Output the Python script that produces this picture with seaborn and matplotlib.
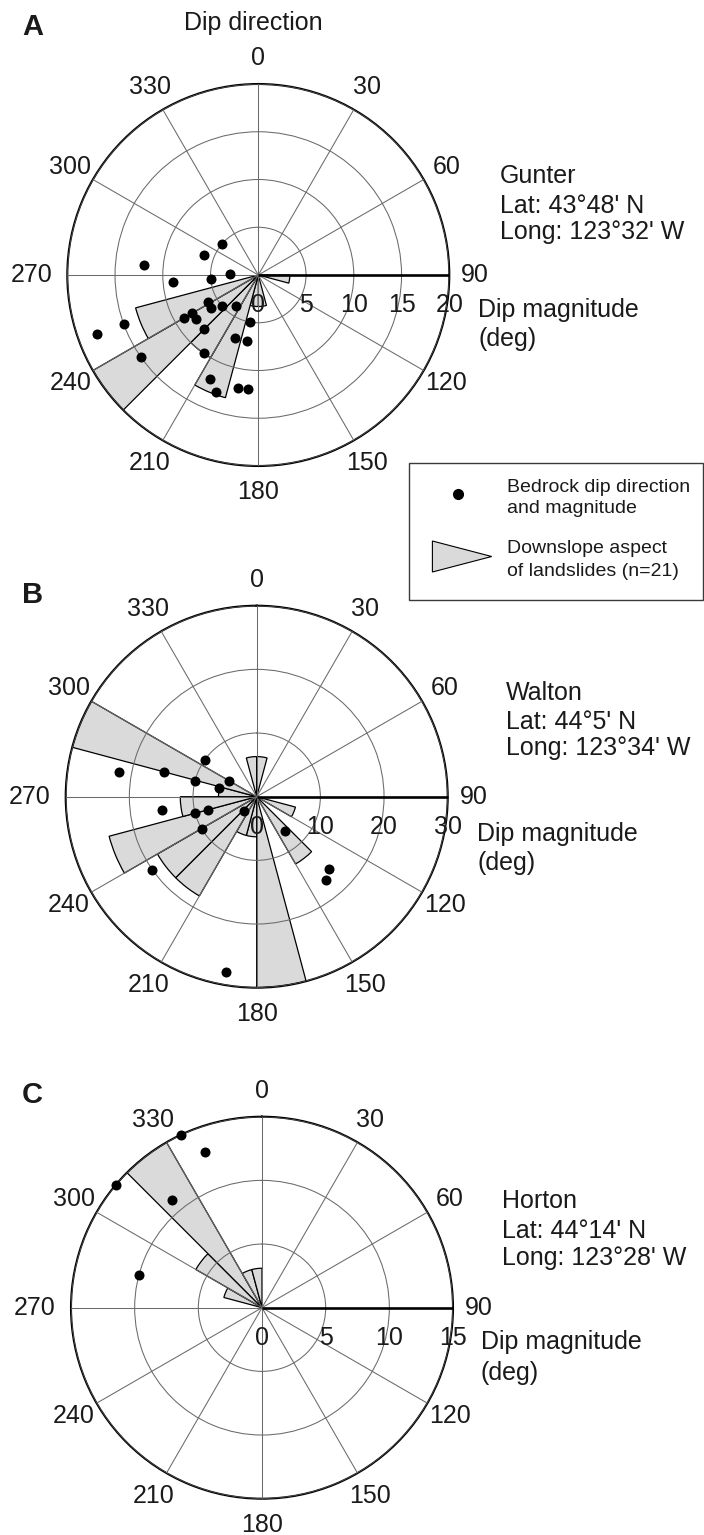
import numpy as np
import pandas as pd
import matplotlib
matplotlib.use("Agg")
import matplotlib.pyplot as plt
import seaborn as sns
from matplotlib.transforms import offset_copy
from matplotlib.patches import Rectangle, Polygon

# ---------------- data ----------------
direction_ticks = [0, 30, 60, 90, 120, 150, 180, 210, 240, 270, 300, 330]
bin_width = 15

# Panel A - Gunter
gunter_bin_start = [90, 165, 180, 195, 210, 225, 240]
gunter_bin_length = [3.3, 3.3, 3.3, 13.3, 10.0, 20.0, 13.3]
gunter_dip_dir = [271, 265, 265, 242, 235, 230, 215, 240, 240, 235, 225, 190, 200,
                  190, 215, 235, 205, 200, 190, 185, 310, 290, 275, 250, 250]
gunter_dip_mag = [3, 5, 9, 6, 6, 5, 4, 9, 8, 8, 8, 5, 7,
                  7, 10, 15, 12, 13, 12, 12, 5, 6, 12, 15, 18]
gunter_rticks = [0, 5, 10, 15, 20]

# Panel B - Walton
walton_bin_start = [345, 0, 105, 135, 165, 180, 195, 210, 225, 240, 255, 270, 285]
walton_bin_length = [6.3, 6.3, 6.3, 12.2, 30.0, 6.3, 6.3, 18.0, 18.0, 24.0, 12.0, 6.0, 30.0]
walton_dip_dir = [280, 285, 305, 284, 283, 300, 262, 255, 255, 221, 240, 235, 140, 135, 140, 190]
walton_dip_mag = [22, 15, 10, 10, 6, 5, 15, 10, 8, 3, 10, 20, 7, 16, 17, 28]
walton_rticks = [0, 10, 20, 30]

# Panel C - Horton
horton_bin_start = [285, 300, 315, 330, 345]
horton_bin_length = [3.1, 6.0, 15.0, 3.1, 3.1]
horton_dip_dir = [335, 340, 310, 320, 285]
horton_dip_mag = [15, 13, 15, 11, 10]
horton_rticks = [0, 5, 10, 15]

site_names = ["Gunter", "Walton", "Horton"]
site_lats = ["Lat: 43°48' N", "Lat: 44°5' N", "Lat: 44°14' N"]
site_longs = ["Long: 123°32' W", "Long: 123°34' W", "Long: 123°28' W"]
panel_letters = ["A", "B", "C"]
legend_labels = ["Bedrock dip direction\nand magnitude", "Downslope aspect\nof landslides (n=21)"]

# ---------------- style ----------------
sns.set_style("white")
plt.rcParams['font.family'] = ['Liberation Sans', 'DejaVu Sans']

W, H = 704, 1535
R = 191.0
FS = 18
fig = plt.figure(figsize=(W / 100, H / 100), dpi=100)
fig.patch.set_facecolor('white')


def fx(x):
    return x / W


def fy(y):
    return 1 - y / H


panels = [
    dict(cx=258.3, cy=275.0, starts=gunter_bin_start, lens=gunter_bin_length,
         dirs=gunter_dip_dir, mags=gunter_dip_mag, rticks=gunter_rticks,
         site_x=500, site_y=[183, 213, 239], dm_x=478, dm_y=[317, 346],
         letter_y=35),
    dict(cx=256.7, cy=796.7, starts=walton_bin_start, lens=walton_bin_length,
         dirs=walton_dip_dir, mags=walton_dip_mag, rticks=walton_rticks,
         site_x=506, site_y=[700, 729, 755], dm_x=477, dm_y=[841, 870],
         letter_y=603),
    dict(cx=262.0, cy=1307.7, starts=horton_bin_start, lens=horton_bin_length,
         dirs=horton_dip_dir, mags=horton_dip_mag, rticks=horton_rticks,
         site_x=502, site_y=[1208, 1238, 1265], dm_x=481, dm_y=[1349, 1380],
         letter_y=1103),
]

for i, p in enumerate(panels):
    cx, cy = p['cx'], p['cy']
    rmax = p['rticks'][-1]
    ax = fig.add_axes([fx(cx - R), fy(cy + R), 2 * R / W, 2 * R / H], projection='polar')
    ax.set_theta_zero_location('N')
    ax.set_theta_direction(-1)
    ax.set_facecolor('none')

    # rose wedges
    ax.bar(np.deg2rad(p['starts']), p['lens'], width=np.deg2rad(bin_width), align='edge',
           color='#dadada', edgecolor='black', linewidth=0.9, zorder=2)

    # bedrock dip points
    df = pd.DataFrame({'theta': np.deg2rad(p['dirs']), 'r': p['mags']})
    sns.scatterplot(data=df, x='theta', y='r', ax=ax, color='black', s=52,
                    linewidth=0, zorder=6, clip_on=False, legend=False)
    ax.set_xlabel('')
    ax.set_ylabel('')

    # magnitude axis line along 90
    ax.plot([np.pi / 2, np.pi / 2], [0, rmax], color='black', lw=1.9, zorder=5,
            solid_capstyle='butt', clip_on=False)

    ax.set_ylim(0, rmax)
    ax.set_xticks(np.deg2rad(direction_ticks))
    ax.set_xticklabels([])
    ax.set_yticks(p['rticks'][1:])
    ax.set_yticklabels([])
    ax.grid(True, color='#6a6a6a', lw=0.75)
    ax.set_axisbelow(False)
    ax.spines['polar'].set_color('black')
    ax.spines['polar'].set_linewidth(1.5)
    ax.tick_params(length=0)

    # direction labels
    for t in direction_ticks:
        d = 217 + (10 if t == 270 else 0)
        ax.text(np.deg2rad(t), rmax * d / R, str(t), ha='center', va='center',
                fontsize=FS, color='#1a1a1a', clip_on=False)

    # magnitude labels
    trans = offset_copy(ax.transData, fig=fig, x=0, y=-30, units='dots')
    for v in p['rticks']:
        ax.text(np.pi / 2, v, str(v), transform=trans, ha='center', va='center',
                fontsize=FS, color='#1a1a1a', zorder=3)

    # site text
    for txt, yb in zip([site_names[i], site_lats[i], site_longs[i]], p['site_y']):
        fig.text(fx(p['site_x']), fy(yb), txt, fontsize=FS, va='baseline', ha='left',
                 color='#1a1a1a')
    fig.text(fx(p['dm_x']), fy(p['dm_y'][0]), "Dip magnitude", fontsize=FS,
             va='baseline', ha='left', color='#1a1a1a')
    fig.text(fx(p['dm_x']), fy(p['dm_y'][1]), "(deg)", fontsize=FS,
             va='baseline', ha='left', color='#1a1a1a')

    # panel letter
    fig.text(fx(22), fy(p['letter_y']), panel_letters[i], fontsize=21,
             fontweight='bold', va='baseline', ha='left', color='#1a1a1a')

# title for direction
fig.text(fx(253), fy(30), "Dip direction", fontsize=FS, ha='center', va='baseline',
         color='#1a1a1a')

# legend box
fig.patches.append(Rectangle((fx(408.6), fy(600)), fx(703) - fx(408.6), fy(463) - fy(600),
                             transform=fig.transFigure, facecolor='white',
                             edgecolor='#3a3a3a', lw=1.0))
fig.patches.append(Polygon([(fx(432.4), fy(541)), (fx(432.4), fy(572)), (fx(491.7), fy(556.5))],
                           closed=True, transform=fig.transFigure, facecolor='#dadada',
                           edgecolor='black', lw=0.8))
fig.lines.append(plt.Line2D([fx(458)], [fy(494)], marker='o', markersize=7,
                            color='black', transform=fig.transFigure))
fig.text(fx(507), fy(492), legend_labels[0].split("\n")[0], fontsize=14, va='baseline', color='#1a1a1a')
fig.text(fx(507), fy(513), legend_labels[0].split("\n")[1], fontsize=14, va='baseline', color='#1a1a1a')
fig.text(fx(507), fy(553), legend_labels[1].split("\n")[0], fontsize=14, va='baseline', color='#1a1a1a')
fig.text(fx(507), fy(576), legend_labels[1].split("\n")[1], fontsize=14, va='baseline', color='#1a1a1a')

fig.savefig("out.png", dpi=100, facecolor='white')
